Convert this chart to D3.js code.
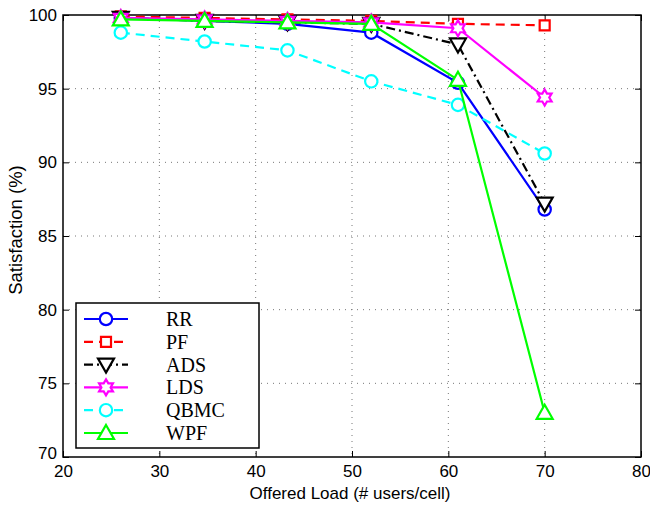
<!DOCTYPE html>
<html>
<head>
<meta charset="utf-8">
<script src="https://cdn.jsdelivr.net/npm/d3@7"></script>
<style>
  body { margin: 0; background: #fff; }
  svg text { font-family: "Liberation Sans", Arial, sans-serif; }
  svg text.legend-label { font-family: "Liberation Serif", "Times New Roman", serif; }
</style>
</head>
<body>
<div id="chart"></div>
<script>
// offered load (x) and satisfaction (%) for each scheduler
const loads = [26, 34.7, 43.3, 52, 61, 70];
const rrValues   = [99.8, 99.6, 99.4, 98.8, 95.4, 86.8];
const pfValues   = [99.9, 99.8, 99.7, 99.6, 99.4, 99.3];
const adsValues  = [99.8, 99.6, 99.5, 99.4, 98.0, 87.2];
const ldsValues  = [99.8, 99.7, 99.6, 99.5, 99.1, 94.4];
const qbmcValues = [98.8, 98.2, 97.6, 95.5, 93.9, 90.6];
const wpfValues  = [99.7, 99.6, 99.5, 99.4, 95.6, 73.0];
const seriesNames = ["RR", "PF", "ADS", "LDS", "QBMC", "WPF"];
const xTicks = [20, 30, 40, 50, 60, 70, 80];
const yTicks = [70, 75, 80, 85, 90, 95, 100];

const styles = {
    RR:   {color: "#0000ff", dash: null,        marker: "circle"},
    PF:   {color: "#ff0000", dash: "9,6",       marker: "square"},
    ADS:  {color: "#000000", dash: "9,4,2,4",   marker: "down"},
    LDS:  {color: "#ff00ff", dash: null,        marker: "hex"},
    QBMC: {color: "#00ffff", dash: "9,6",       marker: "circle"},
    WPF:  {color: "#00ff00", dash: null,        marker: "up"}
};
const allValues = [rrValues, pfValues, adsValues, ldsValues, qbmcValues, wpfValues];

const W = 650, H = 505;
const margin = {top: 15, right: 9, bottom: 48, left: 63};
const width = W - margin.left - margin.right;
const height = H - margin.top - margin.bottom;

const svg = d3.select("#chart").append("svg")
    .attr("width", W).attr("height", H);
const g = svg.append("g")
    .attr("transform", "translate(" + margin.left + "," + margin.top + ")");

const x = d3.scaleLinear().domain([20, 80]).range([0, width]);
const y = d3.scaleLinear().domain([70, 100]).range([height, 0]);

// grid
g.append("g").selectAll("line").data(xTicks.slice(1, -1)).enter().append("line")
    .attr("x1", d => x(d)).attr("x2", d => x(d))
    .attr("y1", 0).attr("y2", height)
    .attr("stroke", "#777").attr("stroke-width", 1).attr("stroke-dasharray", "1,5");
g.append("g").selectAll("line").data(yTicks.slice(1, -1)).enter().append("line")
    .attr("y1", d => y(d)).attr("y2", d => y(d))
    .attr("x1", 0).attr("x2", width)
    .attr("stroke", "#777").attr("stroke-width", 1).attr("stroke-dasharray", "1,5");

// axes (ticks inside, matlab style)
const xAxis = g.append("g").attr("transform", "translate(0," + height + ")")
    .call(d3.axisBottom(x).tickValues(xTicks).tickSizeInner(-6).tickSizeOuter(0).tickPadding(8));
const yAxis = g.append("g")
    .call(d3.axisLeft(y).tickValues(yTicks).tickSizeInner(-6).tickSizeOuter(0).tickPadding(6));
g.append("g")
    .call(d3.axisTop(x).tickValues(xTicks).tickSizeInner(-6).tickSizeOuter(0).tickFormat(""));
g.append("g").attr("transform", "translate(" + width + ",0)")
    .call(d3.axisRight(y).tickValues(yTicks).tickSizeInner(-6).tickSizeOuter(0).tickFormat(""));
g.selectAll(".domain").remove();
g.selectAll(".tick line").attr("stroke", "#000");
g.selectAll(".tick text").attr("font-size", 17).attr("fill", "#000");
xAxis.selectAll(".tick text").attr("dy", "0.71em");
yAxis.select(".tick:first-of-type text").attr("dy", "0.1em");

g.append("rect").attr("width", width).attr("height", height)
    .attr("fill", "none").attr("stroke", "#000").attr("stroke-width", 1.5);

// axis titles
svg.append("text").attr("x", 350).attr("y", 499)
    .attr("text-anchor", "middle").attr("font-size", 17).text("Offered Load (# users/cell)");
svg.append("text").attr("transform", "translate(22,230) rotate(-90)")
    .attr("text-anchor", "middle").attr("font-size", 18.5).text("Satisfaction (%)");

function markerPath(type) {
    if (type === "circle") return d3.symbol(d3.symbolCircle, 120)();
    if (type === "square") return "M-5,-5H5V5H-5Z";
    if (type === "up") return "M0,-8L8,6H-8Z";
    if (type === "down") return "M0,8L8,-6H-8Z";
    const pts = [];
    for (let i = 0; i < 12; i++) {
        const r = i % 2 === 0 ? 8 : 4.6;
        const a = Math.PI / 6 * i - Math.PI / 2;
        pts.push([r * Math.cos(a), r * Math.sin(a)]);
    }
    return "M" + pts.map(p => p.join(",")).join("L") + "Z";
}

const line = d3.line().x(d => x(d[0])).y(d => y(d[1]));

seriesNames.forEach((name, i) => {
    const st = styles[name];
    const pts = loads.map((l, j) => [l, allValues[i][j]]);
    const sg = g.append("g");
    sg.append("path").datum(pts).attr("d", line)
        .attr("fill", "none").attr("stroke", st.color).attr("stroke-width", 2.2)
        .attr("stroke-dasharray", st.dash);
    sg.selectAll("path.m").data(pts).enter().append("path").attr("class", "m")
        .attr("d", markerPath(st.marker))
        .attr("transform", d => "translate(" + x(d[0]) + "," + y(d[1]) + ")")
        .attr("fill", "#fff").attr("stroke", st.color).attr("stroke-width", 2.2);
});

// legend
const lg = svg.append("g").attr("transform", "translate(76,303)");
lg.append("rect").attr("width", 183).attr("height", 145)
    .attr("fill", "#fff").attr("stroke", "#000").attr("stroke-width", 1.5);
seriesNames.forEach((name, i) => {
    const st = styles[name];
    const yy = 16 + i * 22.8;
    lg.append("line").attr("x1", 8).attr("x2", 52).attr("y1", yy).attr("y2", yy)
        .attr("stroke", st.color).attr("stroke-width", 2.2).attr("stroke-dasharray", st.dash);
    lg.append("path").attr("d", markerPath(st.marker))
        .attr("transform", "translate(30," + yy + ")")
        .attr("fill", "#fff").attr("stroke", st.color).attr("stroke-width", 2.2);
    lg.append("text").attr("class", "legend-label").attr("x", 90).attr("y", yy + 7)
        .attr("font-size", 20).text(name);
});
</script>
</body>
</html>
